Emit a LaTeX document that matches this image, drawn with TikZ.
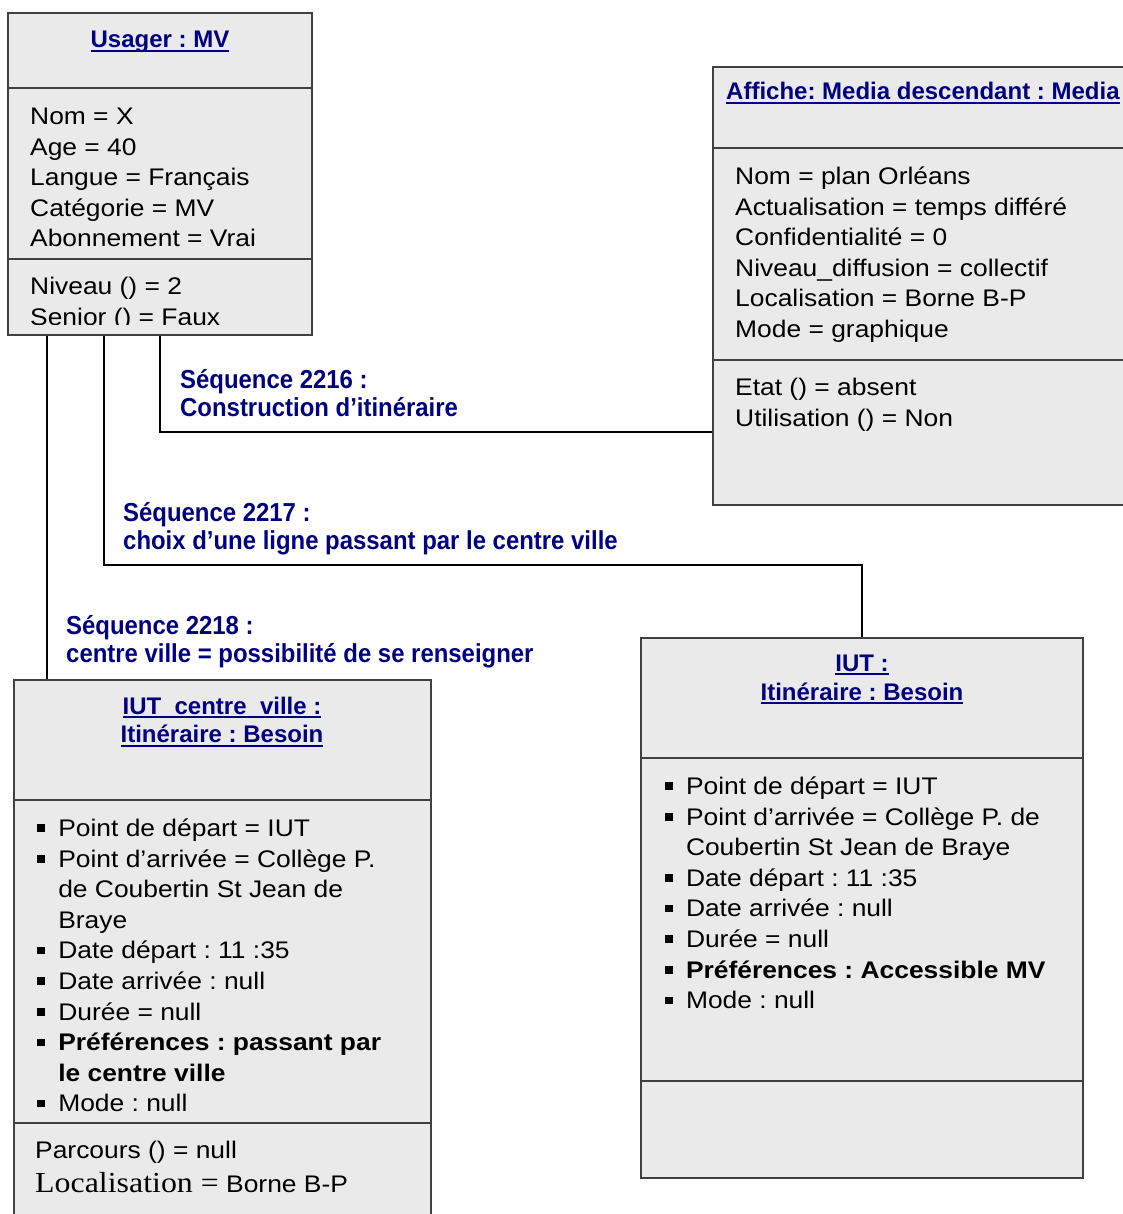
\documentclass[tikz,border=0pt]{standalone}
\usepackage{fontspec}
\setmainfont{Liberation Sans}[FakeStretch=1.1]
\newfontfamily\hdfont{Liberation Sans}
\newfontfamily\lblfont{Liberation Sans}[FakeStretch=0.92]
\newfontfamily\serfont{Liberation Serif}[FakeStretch=1.1]
\definecolor{navy}{RGB}{0,0,128}
\definecolor{boxfill}{RGB}{234,234,234}
\definecolor{boxgray}{RGB}{64,64,64}
\newlength\ulw
\newcommand\myul[1]{\settowidth{\ulw}{#1}\rlap{\rule[-4pt]{\ulw}{2pt}}#1}
\newcommand\bul{\rule[4.6pt]{7.6pt}{7.6pt}}
\frenchspacing
\tikzset{
  classbox/.style={draw=boxgray, line width=2.5pt, fill=boxfill, rectangle, inner sep=0pt},
  divider/.style={draw=boxgray, line width=2.5pt},
  conn/.style={draw=black, line width=1.8pt},
  hdr/.style={inner sep=0pt, text=navy, font=\hdfont\bfseries\fontsize{24}{28.5}\selectfont},
  body/.style={inner sep=0pt, text=black, anchor=base west, font=\fontsize{24}{30.6}\selectfont},
  lbl/.style={inner sep=0pt, text=navy, anchor=base west, font=\lblfont\bfseries\fontsize{26}{28.7}\selectfont},
}
\begin{document}
\begin{tikzpicture}[x=1pt,y=-1pt]
\useasboundingbox (0,0) rectangle (1123,1214);

% boxes
\node[classbox, minimum width=304pt, minimum height=322pt] (usager) at (160,174) {};
\node[classbox, minimum width=422pt, minimum height=438pt] (affiche) at (924,286) {};
\node[classbox, minimum width=417pt, minimum height=550pt] (iutcv) at (222.5,955) {};
\node[classbox, minimum width=442pt, minimum height=540pt] (iut) at (862,908) {};

% connectors
\draw[conn] (usager.south) |- ([yshift=-146pt]affiche.west);
\draw[conn] ([xshift=-56pt]usager.south) |- ([yshift=72pt]iut.north) -- (iut.north);
\draw[conn] ([xshift=-113pt]usager.south) coordinate (c3) -- (c3 |- iutcv.north);

% redraw boxes on top of connector ends
\node[classbox, minimum width=304pt, minimum height=322pt] at (usager.center) {};
\node[classbox, minimum width=422pt, minimum height=438pt] at (affiche.center) {};
\node[classbox, minimum width=417pt, minimum height=550pt] at (iutcv.center) {};
\node[classbox, minimum width=442pt, minimum height=540pt] at (iut.center) {};

% dividers
\draw[divider] (usager.west |- 0,88) -- (usager.east |- 0,88);
\draw[divider] (usager.west |- 0,259) -- (usager.east |- 0,259);
\draw[divider] (affiche.west |- 0,148) -- (affiche.east |- 0,148);
\draw[divider] (affiche.west |- 0,360) -- (affiche.east |- 0,360);
\draw[divider] (iutcv.west |- 0,800) -- (iutcv.east |- 0,800);
\draw[divider] (iutcv.west |- 0,1123) -- (iutcv.east |- 0,1123);
\draw[divider] (iut.west |- 0,758) -- (iut.east |- 0,758);
\draw[divider] (iut.west |- 0,1081) -- (iut.east |- 0,1081);

% Usager texts
\node[hdr, anchor=base] (usagerH) at (160,48) {\myul{Usager : MV}};
\node[body] (usagerA) at (30,124.5) {\begin{tabular}[t]{@{}l@{}}Nom = X\\Age = 40\\Langue = Français\\Catégorie = MV\\Abonnement = Vrai\end{tabular}};
\begin{scope}
\clip (9,262) rectangle (311,324);
\node[body] (usagerM) at (30,294.5) {\begin{tabular}[t]{@{}l@{}}Niveau () = 2\\Senior () = Faux\end{tabular}};
\end{scope}

% Affiche texts
\node[hdr, anchor=base west] (afficheH) at (726,100) {\myul{Affiche: Media descendant : Media}};
\node[body] (afficheA) at (735,184.5) {\begin{tabular}[t]{@{}l@{}}Nom = plan Orléans\\Actualisation = temps différé\\Confidentialité = 0\\Niveau\_diffusion = collectif\\Localisation = Borne B-P\\Mode = graphique\end{tabular}};
\node[body] (afficheM) at (735,395.5) {\begin{tabular}[t]{@{}l@{}}Etat () = absent\\Utilisation () = Non\end{tabular}};

% IUT centre ville texts
\node[hdr, anchor=base] (iutcvH) at (222,714) {\begin{tabular}[t]{@{}c@{}}\myul{IUT\_centre\_ville :}\\\myul{Itinéraire : Besoin}\end{tabular}};
\node[body] (iutcvA) at (37,836.5) {\begin{tabular}[t]{@{}l@{\hspace{13.5pt}}l@{}}
\bul & Point de départ = IUT\\
\bul & Point d’arrivée = Collège P.\\
 & de Coubertin St Jean de\\
 & Braye\\
\bul & Date départ : 11 :35\\
\bul & Date arrivée : null\\
\bul & Durée = null\\
\bul & \textbf{Préférences : passant par}\\
 & \textbf{le centre ville}\\
\bul & Mode : null
\end{tabular}};
\node[body] (iutcvM1) at (35,1158.5) {Parcours () = null};
\node[body] (iutcvM2) at (35,1192.5) {{\serfont\fontsize{29}{30}\selectfont Localisation =} Borne B-P};

% IUT texts
\node[hdr, anchor=base] (iutH) at (862,671) {\begin{tabular}[t]{@{}c@{}}\myul{IUT :}\\[0.5pt]\myul{Itinéraire : Besoin}\end{tabular}};
\node[body] (iutA) at (665,794.5) {\begin{tabular}[t]{@{}l@{\hspace{13.2pt}}l@{}}
\bul & Point de départ = IUT\\
\bul & Point d’arrivée = Collège P. de\\
 & Coubertin St Jean de Braye\\
\bul & Date départ : 11 :35\\
\bul & Date arrivée : null\\
\bul & Durée = null\\
\bul & \textbf{Préférences : Accessible MV}\\
\bul & Mode : null
\end{tabular}};

% connector labels
\node[lbl] (seqA) at (180,388) {\begin{tabular}[t]{@{}l@{}}Séquence 2216 :\\Construction d’itinéraire\end{tabular}};
\node[lbl] (seqB) at (123,521) {\begin{tabular}[t]{@{}l@{}}Séquence 2217 :\\choix d’une ligne passant par le centre ville\end{tabular}};
\node[lbl] (seqC) at (66,634) {\begin{tabular}[t]{@{}l@{}}Séquence 2218 :\\centre ville = possibilité de se renseigner\end{tabular}};
\end{tikzpicture}
\end{document}
